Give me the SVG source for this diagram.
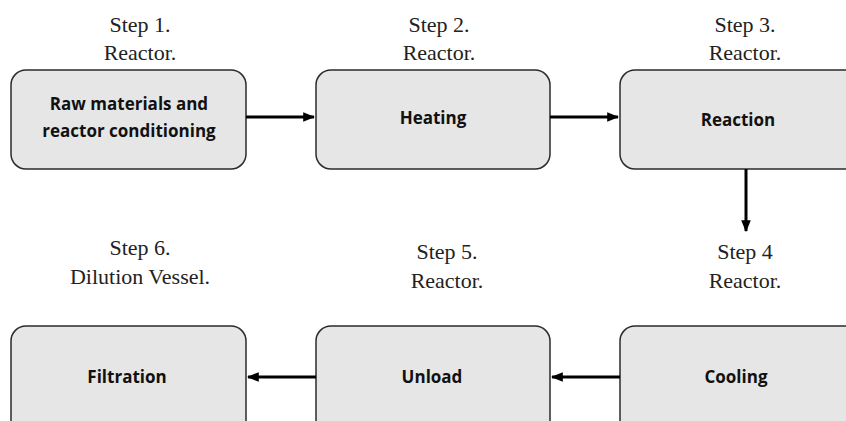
<svg xmlns="http://www.w3.org/2000/svg" width="846" height="421" viewBox="0 0 846 421">
<defs>
<style>
.box{fill:#e6e6e6;stroke:#2b2b2b;stroke-width:1.5}
.lbl{font-family:"Liberation Serif","Times New Roman",serif;font-size:22px;fill:#222;text-anchor:middle}
.t{font-family:"Open Sans","Liberation Sans",sans-serif;font-weight:bold;font-size:17px;fill:#111;text-anchor:middle}
.c{stroke:#000;stroke-width:3;fill:none}
</style>
<marker id="ah" viewBox="0 0 10 10" refX="9" refY="5" markerWidth="4" markerHeight="4" orient="auto" markerUnits="strokeWidth">
<path d="M0,1 L10,5 L0,9 Z" fill="#000"/>
</marker>
</defs>
<rect width="846" height="421" fill="#fff"/>
<g id="n1">
<text class="lbl" x="140" y="32">Step 1.</text>
<text class="lbl" x="140" y="60">Reactor.</text>
<rect class="box" x="11" y="70" width="235" height="99" rx="15"/>
<text class="t" x="129" y="110">Raw materials and</text>
<text class="t" x="129" y="137">reactor conditioning</text>
</g>
<g id="n2">
<text class="lbl" x="439" y="32">Step 2.</text>
<text class="lbl" x="439" y="60">Reactor.</text>
<rect class="box" x="316" y="70" width="234" height="99" rx="15"/>
<text class="t" x="433" y="124">Heating</text>
</g>
<g id="n3">
<text class="lbl" x="745" y="32">Step 3.</text>
<text class="lbl" x="745" y="60">Reactor.</text>
<rect class="box" x="620" y="70" width="240" height="99" rx="15"/>
<text class="t" x="738" y="126">Reaction</text>
</g>
<g id="n4">
<text class="lbl" x="745" y="259">Step 4</text>
<text class="lbl" x="745" y="288">Reactor.</text>
<rect class="box" x="620" y="326" width="240" height="110" rx="15"/>
<text class="t" x="736" y="383">Cooling</text>
</g>
<g id="n5">
<text class="lbl" x="447" y="259">Step 5.</text>
<text class="lbl" x="447" y="288">Reactor.</text>
<rect class="box" x="316" y="326" width="234" height="110" rx="15"/>
<text class="t" x="432" y="383">Unload</text>
</g>
<g id="n6">
<text class="lbl" x="140" y="255">Step 6.</text>
<text class="lbl" x="140" y="284">Dilution Vessel.</text>
<rect class="box" x="11" y="326" width="235" height="110" rx="15"/>
<text class="t" x="127" y="383">Filtration</text>
</g>
<g id="connectors">
<line class="c" x1="246" y1="117" x2="314" y2="117" marker-end="url(#ah)"/>
<line class="c" x1="550" y1="117" x2="618" y2="117" marker-end="url(#ah)"/>
<line class="c" x1="746" y1="169" x2="746" y2="231" marker-end="url(#ah)"/>
<line class="c" x1="620" y1="377" x2="552" y2="377" marker-end="url(#ah)"/>
<line class="c" x1="316" y1="377" x2="248" y2="377" marker-end="url(#ah)"/>
</g>
</svg>
